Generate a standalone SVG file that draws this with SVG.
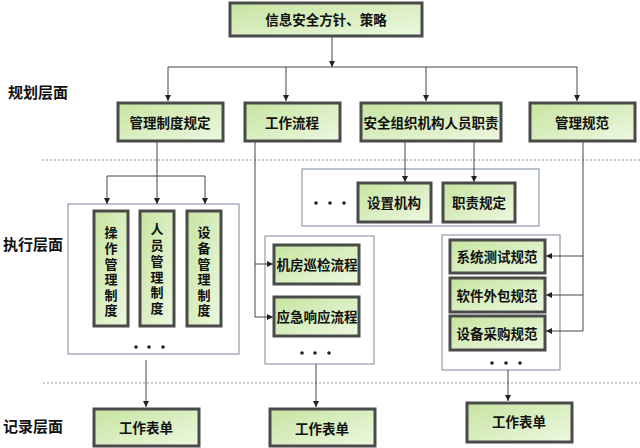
<svg xmlns="http://www.w3.org/2000/svg" width="640" height="448" viewBox="0 0 640 448">
<defs>
<linearGradient id="g" x1="0" y1="0" x2="1" y2="1">
<stop offset="0" stop-color="#c6e4a0"/>
<stop offset="1" stop-color="#edf8e0"/>
</linearGradient>
<marker id="a" markerUnits="userSpaceOnUse" markerWidth="6" markerHeight="6" refX="6" refY="3" orient="auto">
<path d="M0,0 L6,3 L0,6 z" fill="#222"/>
</marker>
<style>
.b{fill:url(#g);stroke:#4a4a4a;stroke-width:3}
.c{fill:#fff;stroke:#8f9cab;stroke-width:1.2}
.t{font-family:"Noto Sans CJK SC","Noto Sans",sans-serif;font-size:13.5px;font-weight:bold;fill:#111;text-anchor:middle;dominant-baseline:central}
.l{font-family:"Noto Sans CJK SC","Noto Sans",sans-serif;font-size:15px;font-weight:bold;fill:#111;dominant-baseline:central}
.v{font-family:"Noto Sans CJK SC","Noto Sans",sans-serif;font-size:13px;font-weight:bold;fill:#111;text-anchor:middle;dominant-baseline:central}
.k{fill:none;stroke:#444;stroke-width:1}
.ka{fill:none;stroke:#444;stroke-width:1;marker-end:url(#a)}
.d{stroke:#999;stroke-width:1.2;stroke-dasharray:2 2}
.dot{fill:#222}
</style>
</defs>
<rect width="640" height="448" fill="#fff"/>

<g id="layers">
<line class="d" x1="42" y1="160" x2="640" y2="160"/>
<line class="d" x1="43" y1="383" x2="640" y2="383"/>
<text class="l" x="8" y="91">规划层面</text>
<text class="l" x="3" y="243">执行层面</text>
<text class="l" x="3" y="425">记录层面</text>
</g>

<g id="containers">
<rect class="c" x="68" y="204" width="171" height="150"/>
<rect class="c" x="265" y="236" width="109" height="128"/>
<rect class="c" x="442" y="235" width="118" height="135"/>
<rect class="c" x="302" y="169" width="237" height="57"/>
<circle class="dot" cx="136" cy="347" r="1.8"/><circle class="dot" cx="149" cy="347" r="1.8"/><circle class="dot" cx="163" cy="347" r="1.8"/>
<circle class="dot" cx="302" cy="353" r="1.8"/><circle class="dot" cx="315" cy="353" r="1.8"/><circle class="dot" cx="329" cy="353" r="1.8"/>
<circle class="dot" cx="492" cy="363" r="1.8"/><circle class="dot" cx="506" cy="363" r="1.8"/><circle class="dot" cx="520" cy="363" r="1.8"/>
<circle class="dot" cx="316" cy="203" r="1.8"/><circle class="dot" cx="330" cy="203" r="1.8"/><circle class="dot" cx="344" cy="203" r="1.8"/>
</g>

<g id="connectors">
<line class="ka" x1="332" y1="37" x2="332" y2="67"/>
<line class="k" x1="168" y1="67" x2="577" y2="67"/>
<line class="ka" x1="168" y1="67" x2="168" y2="101"/>
<line class="ka" x1="286" y1="67" x2="286" y2="101"/>
<line class="ka" x1="426" y1="67" x2="426" y2="101"/>
<line class="ka" x1="577" y1="67" x2="577" y2="101"/>

<line class="ka" x1="157" y1="142" x2="157" y2="204"/>
<line class="k" x1="107" y1="176" x2="205" y2="176"/>
<line class="ka" x1="107" y1="176" x2="107" y2="204"/>
<line class="ka" x1="205" y1="176" x2="205" y2="204"/>

<polyline class="k" points="255,142 255,317"/>
<line class="ka" x1="255" y1="264" x2="273" y2="264"/>
<line class="ka" x1="255" y1="317" x2="273" y2="317"/>

<line class="ka" x1="405" y1="142" x2="405" y2="182"/>
<line class="ka" x1="474" y1="142" x2="474" y2="182"/>

<line class="k" x1="583" y1="142" x2="583" y2="331"/>
<line class="ka" x1="583" y1="256" x2="546" y2="256"/>
<line class="ka" x1="583" y1="295" x2="546" y2="295"/>
<line class="ka" x1="583" y1="331" x2="546" y2="331"/>

<line class="ka" x1="146" y1="360" x2="146" y2="407"/>
<line class="ka" x1="316" y1="364" x2="316" y2="407"/>
<line class="ka" x1="508" y1="370" x2="508" y2="401"/>
</g>

<g id="n-policy"><rect class="b" x="230" y="3" width="192" height="33"/><text class="t" x="326" y="19">信息安全方针、策略</text></g>

<g id="n-mgmt-rules"><rect class="b" x="118" y="103" width="105" height="38"/><text class="t" x="170" y="122">管理制度规定</text></g>
<g id="n-workflow"><rect class="b" x="245" y="103" width="95" height="38"/><text class="t" x="292" y="122">工作流程</text></g>
<g id="n-org"><rect class="b" x="361" y="103" width="140" height="38"/><text class="t" x="431" y="122">安全组织机构人员职责</text></g>
<g id="n-spec"><rect class="b" x="530" y="103" width="105" height="38"/><text class="t" x="582" y="122">管理规范</text></g>

<g id="n-op"><rect class="b" x="94" y="211" width="34" height="115"/>
<text class="v" x="111" y="231">操</text><text class="v" x="111" y="247">作</text><text class="v" x="111" y="263">管</text><text class="v" x="111" y="278">理</text><text class="v" x="111" y="294">制</text><text class="v" x="111" y="309">度</text></g>
<g id="n-staff"><rect class="b" x="140" y="211" width="34" height="115"/>
<text class="v" x="157" y="228">人</text><text class="v" x="157" y="244">员</text><text class="v" x="157" y="260">管</text><text class="v" x="157" y="276">理</text><text class="v" x="157" y="291">制</text><text class="v" x="157" y="307">度</text></g>
<g id="n-equip"><rect class="b" x="187" y="211" width="34" height="115"/>
<text class="v" x="204" y="231">设</text><text class="v" x="204" y="247">备</text><text class="v" x="204" y="263">管</text><text class="v" x="204" y="278">理</text><text class="v" x="204" y="294">制</text><text class="v" x="204" y="309">度</text></g>

<g id="n-room"><rect class="b" x="274" y="245" width="85" height="39"/><text class="t" x="317" y="264">机房巡检流程</text></g>
<g id="n-emerg"><rect class="b" x="274" y="297" width="85" height="39"/><text class="t" x="317" y="316">应急响应流程</text></g>

<g id="n-setorg"><rect class="b" x="358" y="183" width="73" height="39"/><text class="t" x="394" y="202">设置机构</text></g>
<g id="n-duty"><rect class="b" x="443" y="183" width="72" height="39"/><text class="t" x="479" y="202">职责规定</text></g>

<g id="n-test"><rect class="b" x="450" y="240" width="95" height="33"/><text class="t" x="497" y="256">系统测试规范</text></g>
<g id="n-outsrc"><rect class="b" x="450" y="278" width="95" height="34"/><text class="t" x="497" y="295">软件外包规范</text></g>
<g id="n-purch"><rect class="b" x="450" y="316" width="95" height="34"/><text class="t" x="497" y="333">设备采购规范</text></g>

<g id="n-form1"><rect class="b" x="94" y="409" width="105" height="37"/><text class="t" x="146" y="427">工作表单</text></g>
<g id="n-form2"><rect class="b" x="270" y="409" width="105" height="37"/><text class="t" x="322" y="428">工作表单</text></g>
<g id="n-form3"><rect class="b" x="467" y="403" width="105" height="39"/><text class="t" x="519" y="421">工作表单</text></g>
</svg>
